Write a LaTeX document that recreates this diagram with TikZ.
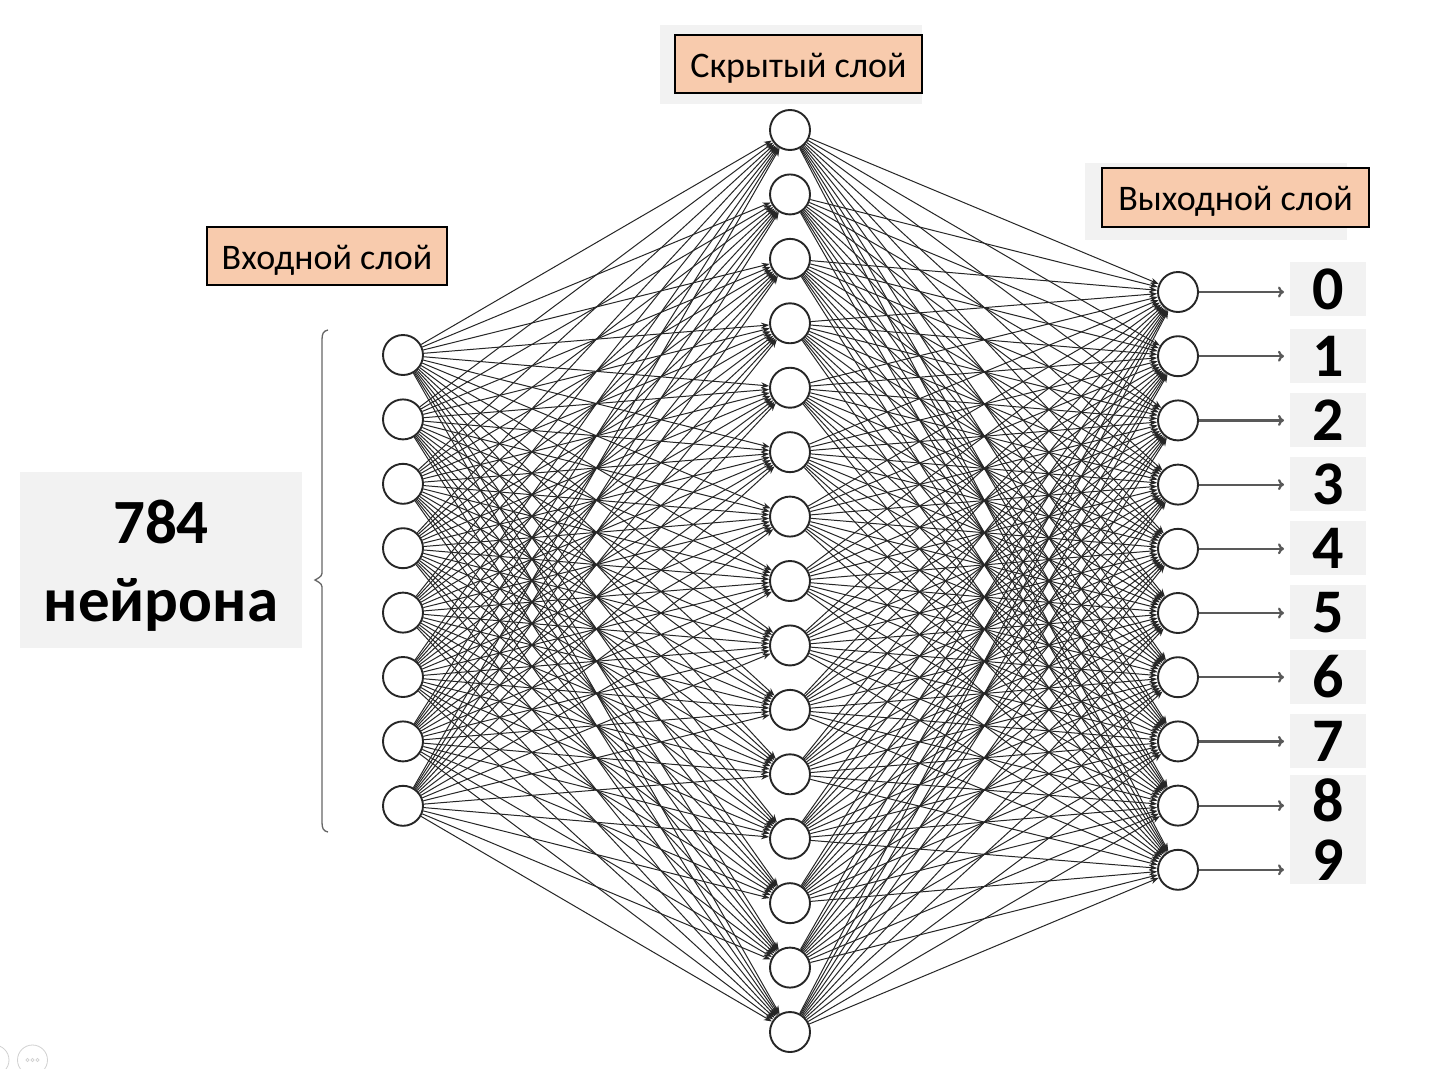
\documentclass[tikz,border=0pt]{standalone}
\usepackage{fontspec}
\setmainfont{Carlito}
\usetikzlibrary{arrows.meta}
\definecolor{lorange}{HTML}{F8CBAD}
\definecolor{lgray}{HTML}{F2F2F2}
\pgfdeclarelayer{back}
\pgfdeclarelayer{edges}
\pgfsetlayers{back,edges,main}
\begin{document}
\begin{tikzpicture}[x=1pt,y=-1pt,
  neuron/.style={circle,draw=black!85,line width=1.9pt,fill=white,minimum size=40pt,inner sep=0pt},
  conn/.style={black!85,line width=1pt,-{Stealth[length=8pt,width=6pt]}},
  outarr/.style={black!65,line width=2.2pt,-{To[length=6pt,width=11pt]}},
  lbl/.style={draw=black,line width=1.3pt,fill=lorange,font=\fontsize{36}{42}\selectfont,
    inner sep=0pt,text height=27pt,text depth=1pt},
  bgbox/.style={fill=lgray,draw=none},
  digit/.style={inner sep=0pt,font=\fontsize{62}{62}\selectfont\bfseries,text height=39pt,text depth=0pt},
  bracestyle/.style={black!60,line width=1.3pt},
  faint/.style={black!18,line width=0.8pt}]
\useasboundingbox (0,0) rectangle (1450,1068);
\begin{pgfonlayer}{back}
\fill[white] (0,0) rectangle (1450,1068);
\end{pgfonlayer}

% label boxes
\fill[bgbox] (660,25) rectangle (922,104);
\node[lbl,minimum width=247pt,minimum height=58pt] (lh) at (798.5,64) {Скрытый слой};
\fill[bgbox] (1085,163) rectangle (1347,240);
\node[lbl,minimum width=267pt,minimum height=59pt] (lo) at (1235.5,197.5) {Выходной слой};
\node[lbl,minimum width=240pt,minimum height=58pt] (li) at (327,256) {Входной слой};

% 784 box
\fill[bgbox] (20,472) rectangle (302,648);
\node[inner sep=0pt,align=center,
  font=\fontsize{63}{78}\selectfont\bfseries] (n784) at (161,566) {784\\нейрона};

% brace
\draw[bracestyle] (328,330) .. controls (323,331) and (322,334) .. (322,340) -- (322,570)
  .. controls (322,576) .. (315,580) .. controls (322,584) .. (322,590) -- (322,822)
  .. controls (322,828) and (323,831) .. (328,832);

% neurons
\foreach \k in {1,...,8} \node[neuron] (i\k) at (403,{355+64.4*(\k-1)}) {};
\foreach \k in {1,...,15} \node[neuron] (h\k) at (790,{130+64.43*(\k-1)}) {};
\foreach \k in {0,...,9} {
  \node[neuron] (o\k) at (1178,{292+64.2*\k}) {};
  \coordinate (a\k) at (1284,{292+64.2*\k});
}

% connections
\begin{pgfonlayer}{edges}
\foreach \a in {1,...,8} \foreach \b in {1,...,15} \draw[conn] (i\a) -- (h\b);
\foreach \a in {1,...,15} \foreach \b in {0,...,9} \draw[conn] (h\a) -- (o\b);
\end{pgfonlayer}
\foreach \k in {0,...,9} \draw[outarr] (o\k) -- (a\k);

% digit boxes
\foreach \t/\b in {262/316,329/383,393/447,457/511,521/575,585/639,650/704,714/768,775/830,830/884}
  \fill[bgbox] (1290,\t) rectangle (1366,\b);
% digits
\foreach \d/\y in {0/290,1/357,2/421,3/485,4/549,5/613,6/678,7/742,8/802,9/861}
  \node[digit] (d\d) at (1328,\y) {\d};

% faint viewer icons
\draw[faint] (-6,1060) circle (15);
\draw[faint] (32.5,1060) circle (15);
\foreach \x in {27.5,32.5,37.5} \draw[faint,line width=0.6pt] (\x,1060) circle (1.6);
\end{tikzpicture}
\end{document}
